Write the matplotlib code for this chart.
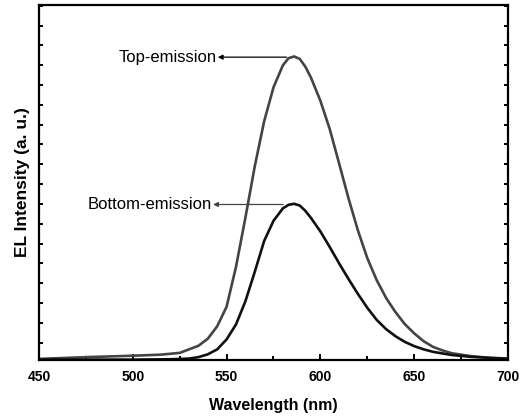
import numpy as np
import matplotlib
matplotlib.use("Agg")
import matplotlib.pyplot as plt
from matplotlib.ticker import MultipleLocator, FixedLocator

plt.rcParams['font.family'] = ['Liberation Sans', 'DejaVu Sans']

# EL spectra (normalised to the plot height)
wl_top = [450, 475, 500, 515, 525, 530, 535, 540, 545, 550, 555, 560, 565, 570,
          575, 580, 583, 586, 589, 592, 595, 600, 605, 610, 615, 620, 625, 630,
          635, 640, 645, 650, 655, 660, 665, 670, 680, 690, 700]
top_emission = [0.003, 0.008, 0.012, 0.015, 0.020, 0.030, 0.040, 0.060, 0.095,
                0.150, 0.262, 0.400, 0.545, 0.672, 0.768, 0.830, 0.850, 0.855,
                0.848, 0.826, 0.795, 0.730, 0.650, 0.553, 0.455, 0.365, 0.287,
                0.225, 0.175, 0.135, 0.101, 0.075, 0.053, 0.037, 0.027, 0.019,
                0.011, 0.006, 0.003]

wl_bottom = [450, 500, 520, 530, 535, 540, 545, 550, 555, 560, 565, 570, 575, 580,
             583, 586, 589, 592, 595, 600, 605, 610, 615, 620, 625, 630, 635, 640,
             645, 650, 655, 660, 670, 680, 690, 700]
bottom_emission = [0.001, 0.001, 0.002, 0.004, 0.008, 0.016, 0.030, 0.058, 0.100,
                   0.165, 0.248, 0.335, 0.392, 0.427, 0.437, 0.440, 0.435, 0.420,
                   0.400, 0.362, 0.318, 0.272, 0.228, 0.186, 0.147, 0.113, 0.087,
                   0.067, 0.051, 0.039, 0.030, 0.023, 0.014, 0.009, 0.006, 0.004]

fig = plt.figure(figsize=(5.29, 4.18), dpi=100)
ax = fig.add_axes([0.0737, 0.1388, 0.8866, 0.8493])

ax.plot(wl_top, top_emission, color='#444444', lw=1.9)
ax.plot(wl_bottom, bottom_emission, color='#111111', lw=1.9)

ax.set_xlim(450, 700)
ax.set_ylim(0, 1)
ax.xaxis.set_major_locator(MultipleLocator(50))
ax.xaxis.set_minor_locator(MultipleLocator(25))
ax.yaxis.set_major_locator(FixedLocator(np.arange(0.049, 1.0, 0.0558)))
ax.set_yticklabels([])

ax.tick_params(axis='x', which='both', direction='in', width=1.4, labelsize=10, pad=7)
ax.tick_params(axis='x', which='major', length=4)
ax.tick_params(axis='x', which='minor', length=3)
ax.tick_params(axis='y', which='both', direction='in', length=3, width=1.4,
               left=True, right=True)
for lab in ax.get_xticklabels():
    lab.set_fontweight('bold')
for sp in ax.spines.values():
    sp.set_linewidth(1.6)

ax.set_xlabel('Wavelength (nm)', fontsize=11.5, fontweight='bold', labelpad=10)
ax.set_ylabel('EL Intensity (a. u.)', fontsize=12.5, fontweight='bold', labelpad=3)

ax.annotate('', xy=(545.3, 0.853), xytext=(582.0, 0.853),
            arrowprops=dict(arrowstyle='-|>', color='black', lw=0.9,
                            mutation_scale=7, shrinkA=0, shrinkB=0))
ax.text(544.6, 0.853, 'Top-emission', fontsize=12, ha='right', va='center')
ax.annotate('', xy=(542.8, 0.438), xytext=(580.2, 0.438),
            arrowprops=dict(arrowstyle='-|>', color='#444444', lw=0.9,
                            mutation_scale=7, shrinkA=0, shrinkB=0))
ax.text(542.1, 0.438, 'Bottom-emission', fontsize=12, ha='right', va='center')

fig.savefig('out.png', dpi=100)
